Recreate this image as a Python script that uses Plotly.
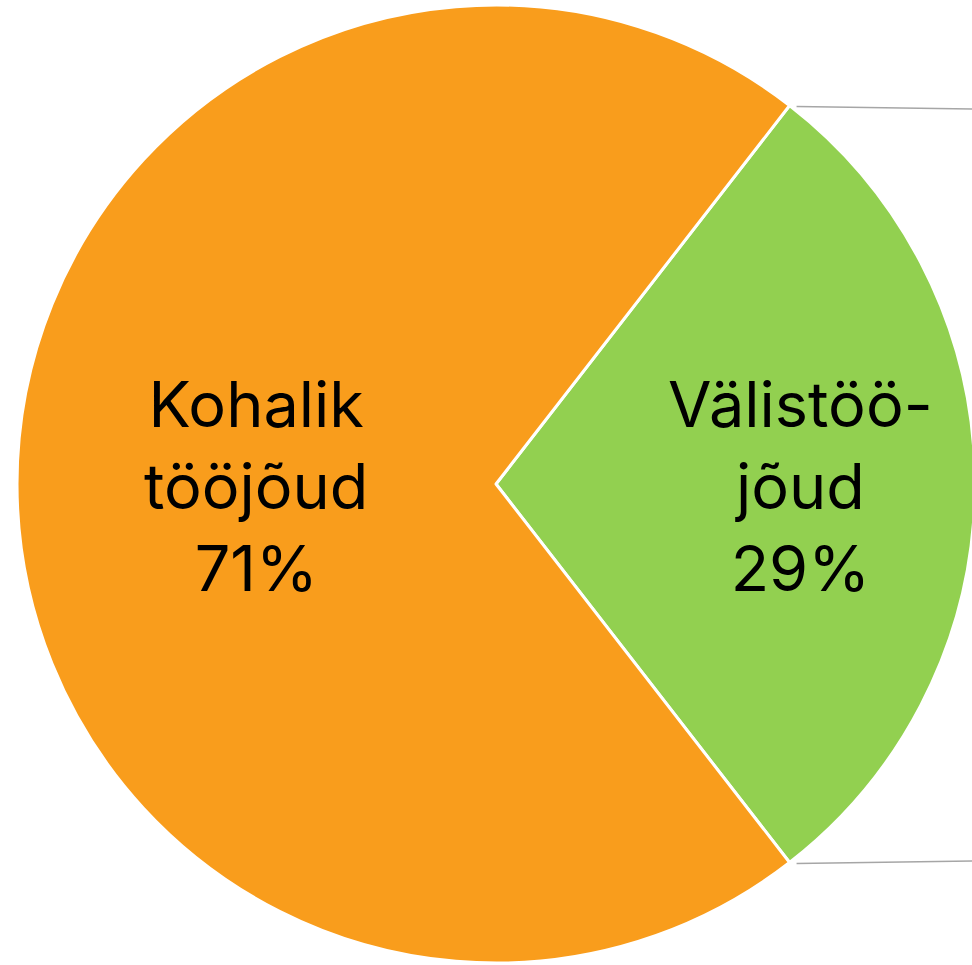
import math
import plotly.graph_objects as go

# ---- data ----
labels = ["Välistöö-<br>jõud", "Kohalik<br>tööjõud"]
values = [29, 71]
colors = ["#92D050", "#F99D1C"]

# ---- layout geometry (pixels) ----
W, H = 1000, 965
cx, cy, r = 496, 484, 479

dom_x = [(cx - r) / W, (cx + r) / W]
dom_y = [1 - (cy + r) / H, 1 - (cy - r) / H]

total = sum(values)
green_span = values[0] / total * 360.0
rotation = 90 - green_span / 2

fig = go.Figure(go.Pie(
    labels=labels,
    values=values,
    sort=False,
    direction="clockwise",
    rotation=rotation,
    marker=dict(colors=colors, line=dict(color="white", width=3)),
    textinfo="none",
    hoverinfo="label+percent",
    domain=dict(x=dom_x, y=dom_y),
    showlegend=False,
))

# labels as annotations at slice positions
label_pos = [(800, 486), (256, 486)]
annotations = []
for lab, v, (px, py) in zip(labels, values, label_pos):
    annotations.append(dict(
        x=px / W, y=1 - py / H, xref="paper", yref="paper",
        text=f"{lab}<br>{round(v / total * 100)}%",
        showarrow=False, xanchor="center", yanchor="middle",
        font=dict(family="Inter", size=63, color="black", weight=400),
    ))

# connector lines to (off-screen) secondary chart
shapes = []
for ang, ey in [(rotation, 109.5), (rotation + green_span, 860.5)]:
    a = math.radians(ang)
    sx = cx + r * math.sin(a) + 7
    sy = cy - r * math.cos(a) + 1
    shapes.append(dict(
        type="line", xref="paper", yref="paper",
        x0=sx / W, y0=1 - sy / H, x1=1.0, y1=1 - ey / H,
        line=dict(color="#A6A6A6", width=1.5),
    ))

fig.update_layout(
    width=W, height=H, autosize=False,
    margin=dict(l=0, r=0, t=0, b=0),
    paper_bgcolor="white", plot_bgcolor="white",
    annotations=annotations, shapes=shapes,
)

fig.write_html(
    "out.html",
    config={"displayModeBar": False},
    post_script="document.body.style.margin='0';document.body.style.overflow='hidden';document.documentElement.style.overflow='hidden';",
)
